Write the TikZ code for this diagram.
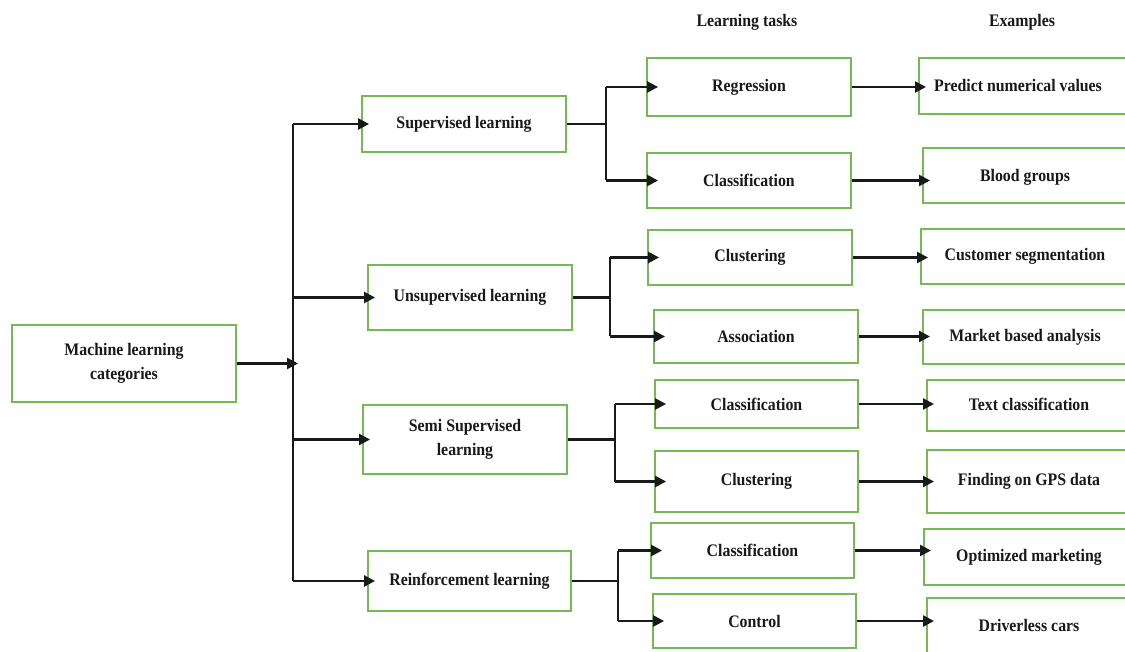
\documentclass[tikz,border=0pt]{standalone}
\usepackage{fontspec}
\setmainfont{Liberation Serif}[FakeStretch=0.9]
\usetikzlibrary{arrows.meta}
\definecolor{boxgreen}{RGB}{118,184,88}
\definecolor{ink}{RGB}{25,25,25}
\begin{document}
\begin{tikzpicture}[x=1pt,y=-1pt,
  lbl/.style={font=\bfseries\fontsize{17.6}{24.5}\selectfont, text=ink, align=center, inner sep=0pt},
  box/.style={lbl, draw=boxgreen, line width=1.8pt, fill=white},
  exbox/.style={draw=boxgreen, line width=1.8pt, fill=white, anchor=north west, inner sep=0pt},
  conn/.style={line width=2.4pt, draw=ink},
  arr/.style={conn, -{Triangle[length=11pt,width=11pt]}}]
\useasboundingbox (0,0) rectangle (1125,652);
\clip (0,0) rectangle (1125,652);
\fill[white] (0,0) rectangle (1125,652);

% headers
\node[lbl] (h1) at (747,22) {Learning tasks};
\node[lbl] (h2) at (1022,22) {Examples};

% root
\node[box, minimum width=224pt, minimum height=77pt] (root) at (124,363.5) {Machine learning\\categories};

% level 1
\node[box, minimum width=204pt, minimum height=56pt] (s1) at (464,124) {Supervised learning};
\node[box, minimum width=204pt, minimum height=65pt] (s2) at (470,297.5) {Unsupervised learning};
\node[box, minimum width=204pt, minimum height=69pt] (s3) at (465,439.5) {Semi Supervised\\learning};
\node[box, minimum width=203pt, minimum height=60pt] (s4) at (469.5,581) {Reinforcement learning};

% level 2
\node[box, minimum width=204pt, minimum height=58pt] (r1) at (749,87) {Regression};
\node[box, minimum width=204pt, minimum height=55pt] (r2) at (749,180.5) {Classification};
\node[box, minimum width=204pt, minimum height=55pt] (r3) at (750,257.5) {Clustering};
\node[box, minimum width=204pt, minimum height=53pt] (r4) at (756,336.5) {Association};
\node[box, minimum width=203pt, minimum height=48pt] (r5) at (756.5,404) {Classification};
\node[box, minimum width=203pt, minimum height=61pt] (r6) at (756.5,481.5) {Clustering};
\node[box, minimum width=203pt, minimum height=55pt] (r7) at (752.5,550.5) {Classification};
\node[box, minimum width=203pt, minimum height=54pt] (r8) at (754.5,621) {Control};

% level 3 (boxes run off the right edge)
\node[exbox, minimum width=222pt, minimum height=56pt] (e1) at (918,57) {};
\node[exbox, minimum width=218pt, minimum height=55pt] (e2) at (922,147) {};
\node[exbox, minimum width=220pt, minimum height=55pt] (e3) at (920,228) {};
\node[exbox, minimum width=218pt, minimum height=54pt] (e4) at (922,309) {};
\node[exbox, minimum width=214pt, minimum height=51pt] (e5) at (926,379) {};
\node[exbox, minimum width=214pt, minimum height=63pt] (e6) at (926,449) {};
\node[exbox, minimum width=217pt, minimum height=56pt] (e7) at (923,528) {};
\node[exbox, minimum width=214pt, minimum height=60pt] (e8) at (926,597) {};
\node[lbl] (e1t) at (1018,86) {Predict numerical values};
\node[lbl] (e2t) at (1025,177) {Blood groups};
\node[lbl] (e3t) at (1025,256) {Customer segmentation};
\node[lbl] (e4t) at (1025,337) {Market based analysis};
\node[lbl] (e5t) at (1029,404) {Text classification};
\node[lbl] (e6t) at (1029,481) {Finding on GPS data};
\node[lbl] (e7t) at (1029,557) {Optimized marketing};
\node[lbl] (e8t) at (1029,625) {Driverless cars};

% trunk
\coordinate (tr) at (293,0);
\draw[conn] (tr |- s1.west) -- (tr |- s4.west);
\draw[arr, shorten >=-5pt] (root.east) -- (root.east -| tr);
\foreach \n in {s1,s2,s3,s4} {
  \draw[arr, shorten >=-8pt] (tr |- \n.west) -- (\n.west);
}

% splits
\coordinate (v1) at (606,0);
\coordinate (v2) at (610,0);
\coordinate (v3) at (615,0);
\coordinate (v4) at (618,0);
\draw[conn] (s1.east) -- (s1.east -| v1);
\draw[conn] (v1 |- r1.west) -- (v1 |- r2.west);
\draw[conn] (s2.east) -- (s2.east -| v2);
\draw[conn] (v2 |- r3.west) -- (v2 |- r4.west);
\draw[conn] (s3.east) -- (s3.east -| v3);
\draw[conn] (v3 |- r5.west) -- (v3 |- r6.west);
\draw[conn] (s4.east) -- (s4.east -| v4);
\draw[conn] (v4 |- r7.west) -- (v4 |- r8.west);
\draw[arr, shorten >=-12pt] (v1 |- r1.west) -- (r1.west);
\draw[arr, shorten >=-12pt] (v1 |- r2.west) -- (r2.west);
\draw[arr, shorten >=-12pt] (v2 |- r3.west) -- (r3.west);
\draw[arr, shorten >=-12pt] (v2 |- r4.west) -- (r4.west);
\draw[arr, shorten >=-12pt] (v3 |- r5.west) -- (r5.west);
\draw[arr, shorten >=-12pt] (v3 |- r6.west) -- (r6.west);
\draw[arr, shorten >=-12pt] (v4 |- r7.west) -- (r7.west);
\draw[arr, shorten >=-12pt] (v4 |- r8.west) -- (r8.west);

% level 2 -> level 3
\draw[arr, shorten >=-8pt] (r1.east) -- (r1.east -| e1.west);
\draw[arr, shorten >=-8pt] (r2.east) -- (r2.east -| e2.west);
\draw[arr, shorten >=-8pt] (r3.east) -- (r3.east -| e3.west);
\draw[arr, shorten >=-8pt] (r4.east) -- (r4.east -| e4.west);
\draw[arr, shorten >=-8pt] (r5.east) -- (r5.east -| e5.west);
\draw[arr, shorten >=-8pt] (r6.east) -- (r6.east -| e6.west);
\draw[arr, shorten >=-8pt] (r7.east) -- (r7.east -| e7.west);
\draw[arr, shorten >=-8pt] (r8.east) -- (r8.east -| e8.west);
\end{tikzpicture}
\end{document}
